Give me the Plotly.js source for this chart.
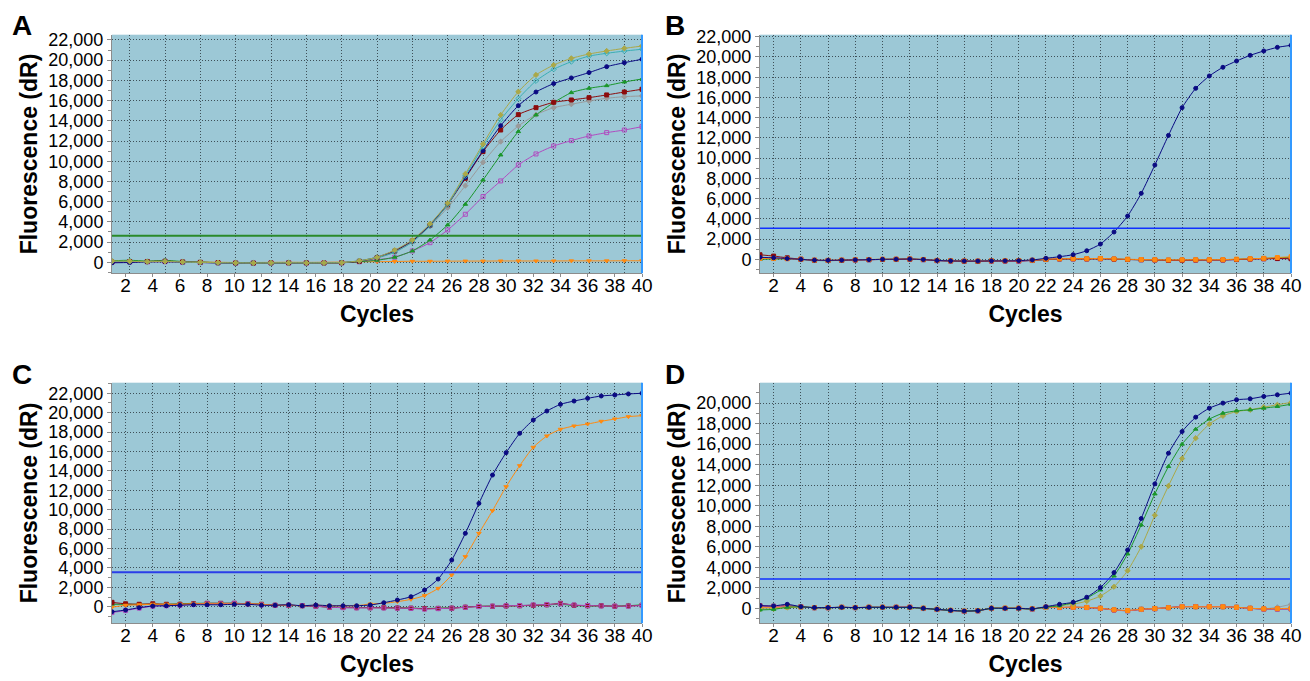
<!DOCTYPE html>
<html>
<head>
<meta charset="utf-8">
<script src="https://cdn.plot.ly/plotly-3.0.1.min.js"></script>
<style>html,body{margin:0;padding:0;background:#fff;}#chart{width:1310px;height:681px;}</style>
</head>
<body>
<div id="chart"></div>
<script>
// ---------- DATA ----------
// Panel A was exported with its own 31-point cycle axis (the printed labels 2..40 were overlaid)
const cyclesA = [1,2,3,4,5,6,7,8,9,10,11,12,13,14,15,16,17,18,19,20,21,22,23,24,25,26,27,28,29,30,31];
const cycles = [1,2,3,4,5,6,7,8,9,10,11,12,13,14,15,16,17,18,19,20,21,22,23,24,25,26,27,28,29,30,31,32,33,34,35,36,37,38,39,40];
const cycleLabels = [2,4,6,8,10,12,14,16,18,20,22,24,26,28,30,32,34,36,38,40];

const A_olive  = [120,100,60,90,30,0,-40,-60,-70,-60,-50,-60,-60,-40,150,500,1200,2200,3800,5840,8740,11700,14580,16880,18540,19520,20180,20610,20910,21170,21400];
const A_cyan   = [80,90,50,100,20,-10,-50,-60,-70,-60,-50,-60,-50,-30,150,450,1000,2000,3600,5700,8550,11450,14100,16200,17950,19100,19850,20400,20680,20900,21080];
const A_navy   = [-50,-20,40,60,10,-20,-60,-80,-70,-70,-60,-60,-60,-40,130,500,1150,2150,3700,5780,8400,11050,13520,15500,16850,17680,18240,18770,19360,19750,20090];
const A_red    = [30,60,80,110,40,0,-40,-70,-80,-60,-60,-60,-70,-50,100,450,1100,2100,3650,5700,8310,10950,13090,14610,15300,15830,16060,16290,16560,16850,17120];
const A_gray   = [60,80,40,70,20,-20,-50,-60,-60,-60,-50,-50,-60,-40,100,400,1000,2000,3560,5400,7580,9890,11940,13490,14610,15300,15640,15960,16230,16390,16460];
const A_green  = [150,200,120,190,80,20,-30,-50,-60,-60,-50,-60,-50,-40,50,200,500,1120,2200,3700,5740,8140,10620,12930,14580,15800,16790,17220,17480,17840,18140];
const A_purple = [0,40,30,60,0,-30,-60,-70,-80,-70,-60,-70,-60,-50,50,250,500,1120,1940,3200,4750,6500,8050,9630,10720,11510,12040,12500,12830,13090,13420];
const A_orange = [100,120,90,100,60,20,0,-20,-20,-10,0,-10,0,20,50,60,80,100,100,110,120,120,130,130,130,130,140,140,140,150,150];
const A_threshold = 2630;

const B_navy   = [200,150,80,0,-80,-100,-80,-50,-30,0,10,30,-20,-110,-150,-170,-170,-150,-150,-130,-60,100,260,460,850,1510,2700,4280,6520,9320,12250,14990,16900,18120,18980,19600,20160,20590,20950,21150];
const B_red    = [450,320,150,20,-90,-110,-90,-60,-40,-10,0,20,-30,-120,-160,-180,-190,-160,-160,-150,-100,-20,40,50,40,60,20,-10,-40,-60,-90,-80,-70,-70,-60,-20,30,60,80,60];
const B_orange = [100,80,60,10,-80,-100,-70,-40,-20,10,20,40,-10,-100,-140,-160,-170,-140,-140,-130,-90,10,60,70,60,90,40,10,-20,-40,-60,-50,-40,-40,-30,20,60,100,180,250];
const B_purple = [150,120,70,-10,-100,-120,-100,-70,-40,-10,0,10,-40,-130,-170,-190,-200,-180,-180,-200,-120,-10,30,40,30,50,10,-20,-50,-70,-100,-90,-80,-80,-70,-30,20,50,70,80];
const B_green  = [0,30,40,-20,-110,-130,-100,-60,-30,0,10,20,-30,-120,-160,-200,-200,-170,-170,-170,-110,-20,20,40,40,60,20,-10,-50,-80,-90,-80,-70,-60,-50,0,50,90,150,200];
const B_threshold = 3060;

const C_navy   = [-520,-340,-100,70,100,150,200,200,200,250,250,150,150,200,100,170,100,100,100,175,410,690,1030,1720,2850,4810,7560,10650,13570,15880,17870,19240,20170,20860,21200,21480,21720,21820,21930,22000];
const C_orange = [-60,150,200,250,250,250,300,300,300,300,300,250,150,150,100,150,100,80,100,280,350,520,760,1140,1890,3270,5160,7560,9900,12370,14540,16430,17600,18290,18630,18830,19110,19350,19590,19690];
const C_red    = [450,300,250,300,250,250,300,350,350,350,300,250,150,150,100,50,-50,-80,-100,-100,-100,-130,-150,-200,-170,-150,-50,30,50,80,100,150,200,350,150,100,100,50,80,150];
const C_purple = [-600,-400,-150,50,100,150,250,300,300,350,300,200,150,150,100,50,-50,-100,-120,-120,-130,-150,-170,-250,-200,-150,-60,20,60,100,120,180,220,300,180,120,80,60,60,120];
const C_green  = [250,250,250,250,250,300,350,350,350,350,300,250,150,150,100,50,-30,-80,-80,-80,-100,-120,-150,-180,-150,-120,-30,40,60,90,120,150,180,250,120,80,80,60,100,200];
const C_gray   = [300,200,200,200,200,250,300,300,300,300,300,200,150,150,100,50,-50,-100,-100,-100,-120,-150,-170,-220,-180,-150,-50,20,50,80,100,130,170,300,150,100,80,50,80,120];
const C_threshold = 3550;

const D_navy   = [260,230,390,160,70,70,100,70,100,100,100,100,0,-100,-200,-270,-230,0,0,0,-50,160,390,590,1080,2020,3480,5690,8750,12130,15120,17230,18630,19510,20000,20330,20420,20650,20810,20970];
const D_green  = [-160,-100,100,150,70,60,90,60,90,90,80,80,-10,-100,-200,-260,-220,0,0,-10,-60,120,250,560,1010,1790,3150,5300,8130,11150,13820,16000,17460,18440,19020,19250,19350,19510,19670,19890];
const D_olive  = [-100,-50,80,120,60,60,90,60,90,90,80,80,-10,-100,-200,-260,-230,-10,-10,-20,-60,100,280,400,700,1190,2100,3670,6010,9070,11930,14600,16580,17950,18760,19180,19350,19610,19840,20070];
const D_red    = [250,200,250,150,60,60,100,70,100,100,100,100,0,-110,-210,-290,-240,0,0,0,-70,100,80,100,80,0,-160,-230,-100,-30,70,160,160,160,160,100,0,-70,-60,-50];
const D_orange = [100,100,120,130,70,70,100,80,100,100,100,100,10,-90,-190,-260,-220,10,20,20,-40,110,100,110,90,10,-140,-210,-90,-20,60,150,150,150,150,100,10,-50,-30,0];
const D_purple = [220,180,200,140,50,50,90,60,90,90,100,100,-20,-120,-220,-300,-250,-20,-10,-10,-80,90,70,90,70,-10,-170,-240,-110,-40,60,170,170,170,170,90,-10,-80,-80,-70];
const D_gray   = [0,50,150,140,70,70,100,80,100,100,100,100,0,-100,-200,-270,-230,0,10,10,-50,100,90,100,90,0,-150,-220,-100,-30,60,150,150,150,150,100,0,-50,100,390];
const D_threshold = 2860;

// ---------- STYLES ----------
const ST = {
  navy:   {c:'#0a0a82', s:'circle'},
  olive:  {c:'#aaa848', s:'diamond'},
  cyan:   {c:'#3aaeb4', s:'diamond-open'},
  red:    {c:'#8c0c0c', s:'square'},
  gray:   {c:'#9a9a9a', s:'diamond'},
  green:  {c:'#1a962a', s:'triangle-up'},
  purple: {c:'#b04cc0', s:'square-open'},
  orange: {c:'#ff8a10', s:'triangle-down'},
  orangeSq: {c:'#ff8a10', s:'square'}
};
function tr(x, y, st, xa, ya) {
  return {
    x: x, y: y, type: 'scatter', mode: 'lines+markers', xaxis: xa, yaxis: ya,
    line: {color: st.c, width: 1, shape: 'spline', smoothing: 0.6},
    marker: {color: st.c, symbol: st.s, size: 4, line: {color: st.c, width: 1}},
    showlegend: false, hoverinfo: 'skip'
  };
}

const traces = [
  // A
  tr(cyclesA, A_orange, ST.orange, 'x', 'y'),
  tr(cyclesA, A_purple, ST.purple, 'x', 'y'),
  tr(cyclesA, A_gray, ST.gray, 'x', 'y'),
  tr(cyclesA, A_green, ST.green, 'x', 'y'),
  tr(cyclesA, A_red, ST.red, 'x', 'y'),
  tr(cyclesA, A_navy, ST.navy, 'x', 'y'),
  tr(cyclesA, A_cyan, ST.cyan, 'x', 'y'),
  tr(cyclesA, A_olive, ST.olive, 'x', 'y'),
  {x: [], y: [], type: 'scatter', xaxis: 'x5', yaxis: 'y', showlegend: false},
  // B
  tr(cycles, B_green, ST.green, 'x2', 'y2'),
  tr(cycles, B_purple, ST.purple, 'x2', 'y2'),
  tr(cycles, B_red, ST.red, 'x2', 'y2'),
  tr(cycles, B_orange, ST.orangeSq, 'x2', 'y2'),
  tr(cycles, B_navy, ST.navy, 'x2', 'y2'),
  // C
  tr(cycles, C_gray, ST.gray, 'x3', 'y3'),
  tr(cycles, C_green, ST.green, 'x3', 'y3'),
  tr(cycles, C_red, ST.red, 'x3', 'y3'),
  tr(cycles, C_purple, ST.purple, 'x3', 'y3'),
  tr(cycles, C_orange, ST.orange, 'x3', 'y3'),
  tr(cycles, C_navy, ST.navy, 'x3', 'y3'),
  // D
  tr(cycles, D_gray, ST.gray, 'x4', 'y4'),
  tr(cycles, D_red, ST.red, 'x4', 'y4'),
  tr(cycles, D_purple, ST.purple, 'x4', 'y4'),
  tr(cycles, D_orange, ST.orangeSq, 'x4', 'y4'),
  tr(cycles, D_olive, ST.olive, 'x4', 'y4'),
  tr(cycles, D_green, ST.green, 'x4', 'y4'),
  tr(cycles, D_navy, ST.navy, 'x4', 'y4')
];

// ---------- LAYOUT ----------
const W = 1310, H = 681;
const FONT = 'Arial, "Liberation Sans", Helvetica, sans-serif';
const AXC = '#8c8c8c';
const GRID = '#3e5058';
function px(a, b) { return [a / W, b / W]; }
function py(top, bottom) { return [1 - bottom / H, 1 - top / H]; }

function xax(domain, range, extra) {
  return Object.assign({
    domain: domain, range: range, tick0: 0, dtick: 2,
    showgrid: true, gridcolor: GRID, griddash: '1px,2px', gridwidth: 1,
    zeroline: false, showline: true, linecolor: AXC, linewidth: 1,
    ticks: 'outside', ticklen: 3, tickcolor: AXC, ticklabelstandoff: -8,
    tickfont: {family: FONT, size: 19, color: '#000'},
    title: {text: 'Cycles', font: {family: FONT, size: 23, color: '#000', weight: 'bold'}, standoff: 10},
    fixedrange: true
  }, extra || {});
}
function yax(domain, range, anchor) {
  return {
    domain: domain, range: range, anchor: anchor, tick0: 0, dtick: 2000, tickformat: ',d',
    showgrid: true, gridcolor: GRID, griddash: '1px,2px', gridwidth: 1,
    zeroline: false, showline: true, linecolor: AXC, linewidth: 1,
    ticks: 'outside', ticklen: 4, tickcolor: AXC,
    minor: {dtick: 1000, ticks: 'outside', ticklen: 3, tickcolor: AXC, showgrid: false},
    tickfont: {family: FONT, size: 18, color: '#000'},
    title: {text: 'Fluorescence (dR)', font: {family: FONT, size: 23, color: '#000', weight: 'bold'}, standoff: 4},
    fixedrange: true
  };
}

const dxL = px(112, 642), dxR = px(760, 1291);
const dyT = py(34.7, 273.3), dyB = py(382.7, 623.3);

function thr(xr, yr, val, color, width) {
  return {type: 'line', xref: xr + ' domain', yref: yr, x0: 0, x1: 1, y0: val, y1: val,
          line: {color: color, width: width}, layer: 'above'};
}
function edge(xr, yr) {
  return {type: 'line', xref: xr + ' domain', yref: yr + ' domain', x0: 1, x1: 1, y0: 0, y1: 1,
          line: {color: '#3399ff', width: 2}, layer: 'above'};
}
function letter(t, x, y) {
  return {text: t, xref: 'paper', yref: 'paper', x: x / W, y: 1 - y / H, showarrow: false,
          font: {family: FONT, size: 28, color: '#000', weight: 'bold'}, xanchor: 'center', yanchor: 'middle'};
}

const layout = {
  width: W, height: H, margin: {l: 0, r: 0, t: 0, b: 0},
  paper_bgcolor: '#ffffff', plot_bgcolor: '#9cc8d6', showlegend: false,
  font: {family: FONT, color: '#000'},
  xaxis: xax(dxL, [1, 31], {anchor: 'y', showticklabels: false, ticks: '', title: {text: ''}}),
  xaxis5: xax(dxL, [1, 40], {anchor: 'y', overlaying: 'x', showgrid: false, showline: false}),
  yaxis: yax(dyT, [-1090, 22520], 'x'),
  xaxis2: xax(dxR, [1, 40], {anchor: 'y2'}),
  yaxis2: yax(dyT, [-1380, 22200], 'x2'),
  xaxis3: xax(dxL, [1, 40], {anchor: 'y3'}),
  yaxis3: yax(dyB, [-1710, 23090], 'x3'),
  xaxis4: xax(dxR, [1, 40], {anchor: 'y4'}),
  yaxis4: yax(dyB, [-1460, 21990], 'x4'),
  shapes: [
    thr('x', 'y', A_threshold, '#2a8a2a', 2),
    thr('x2', 'y2', B_threshold, '#1030ff', 1.5),
    thr('x3', 'y3', C_threshold, '#2a3ee8', 2.2),
    thr('x4', 'y4', D_threshold, '#1030ff', 1.5),
    edge('x', 'y'), edge('x2', 'y2'), edge('x3', 'y3'), edge('x4', 'y4')
  ],
  annotations: [letter('A', 22, 26), letter('B', 675, 26), letter('C', 22, 374), letter('D', 675, 374)]
};

Plotly.newPlot('chart', traces, layout, {staticPlot: true, displayModeBar: false});
</script>
</body>
</html>
